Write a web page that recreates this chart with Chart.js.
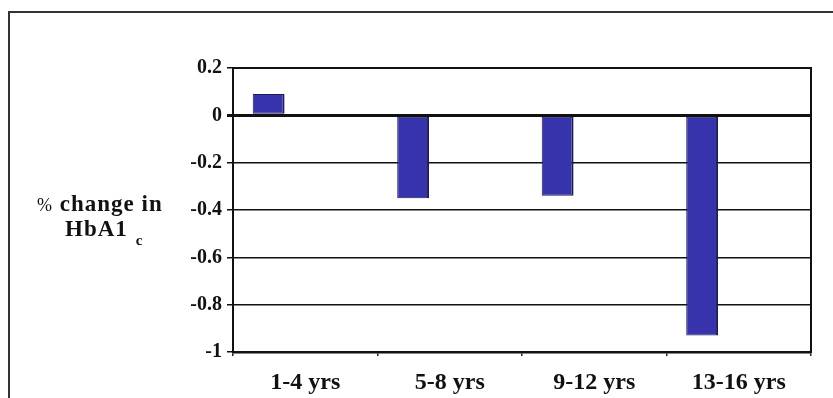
<!DOCTYPE html>
<html>
<head>
<meta charset="utf-8">
<script src="https://cdn.jsdelivr.net/npm/chart.js@4.4.0/dist/chart.umd.min.js"></script>
<style>
  html, body { margin: 0; padding: 0; background: #fff; }
  #wrap { position: relative; width: 833px; height: 398px; overflow: hidden; }
  #frame { position: absolute; left: 8px; top: 11px; width: 900px; height: 450px;
           border-left: 2px solid #333; border-top: 2px solid #333; }
  #chart { position: absolute; left: 0; top: 0; }
  .ytitle { position: absolute; font-family: "Liberation Serif", "Times New Roman", serif;
            font-weight: bold; font-size: 23px; color: #111; white-space: nowrap; letter-spacing: 1px; }
  .ytitle sub { font-size: 15px; vertical-align: -9px; margin-left: 8px; }
</style>
</head>
<body>
<div id="wrap">
  <div id="frame"></div>
  <canvas id="chart" width="833" height="398"></canvas>
  <div class="ytitle" style="left:37px; top:191px;"><span style="font-weight:normal;font-size:18px">%</span> change in</div>
  <div class="ytitle" style="left:65px; top:216px;">HbA1<sub>c</sub></div>
</div>
<script>
"use strict";
// données
const ageGroups = ["1-4 yrs", "5-8 yrs", "9-12 yrs", "13-16 yrs"];
const hba1cChange = [0.09, -0.35, -0.34, -0.93];
const emptySeries = [null, null, null, null];
const yTickValues = [0.2, 0, -0.2, -0.4, -0.6, -0.8, -1];
const yTickLabels = ["0.2", "0", "-0.2", "-0.4", "-0.6", "-0.8", "-1"];

const serif = "'Liberation Serif', 'Times New Roman', serif";

const ctx = document.getElementById("chart").getContext("2d");
const myChart = new Chart(ctx, {
  type: "bar",
  data: {
    labels: ageGroups,
    datasets: [
      {
        data: hba1cChange,
        backgroundColor: "#3633ad",
        borderColor: "#1c1c55",
        borderWidth: { top: 1, right: 2, bottom: 1, left: 1 },
        borderSkipped: false,
        categoryPercentage: 0.76,
        barPercentage: 0.87
      },
      // séries vides (comme dans le graphique d'origine, les barres sont décalées à gauche)
      { data: emptySeries, categoryPercentage: 0.76, barPercentage: 0.87 },
      { data: emptySeries, categoryPercentage: 0.76, barPercentage: 0.87 }
    ]
  },
  options: {
    responsive: false,
    animation: false,
    layout: { padding: { top: 68, right: 22, left: 0, bottom: 0 } },
    plugins: { legend: { display: false }, tooltip: { enabled: false } },
    scales: {
      x: {
        grid: { offset: true, drawOnChartArea: false, color: "#222", tickLength: 4, lineWidth: 1.5 },
        border: { color: "#111", width: 2.5 },
        ticks: { color: "#111", padding: 12, font: { family: serif, size: 24, weight: "bold" } },
        afterFit: (scale) => { scale.height = 46; }
      },
      y: {
        min: -1,
        max: 0.2,
        afterBuildTicks: (scale) => { scale.ticks = yTickValues.map(v => ({ value: v })); },
        grid: {
          color: "#111",
          lineWidth: (c) => (c.tick && c.tick.value === 0 ? 3 : 1.5),
          tickLength: 6
        },
        border: { color: "#111", width: 2 },
        ticks: {
          color: "#111",
          padding: 5,
          font: { family: serif, size: 20, weight: "bold" },
          callback: (v, i) => yTickLabels[i]
        },
        afterFit: (scale) => { scale.width = 233; }
      }
    }
  },
  plugins: [{
    // cadre de la zone de tracé
    id: "plotFrame",
    afterDraw(chart) {
      const a = chart.chartArea;
      const c = chart.ctx;
      c.save();
      c.strokeStyle = "#111";
      c.lineWidth = 2;
      c.strokeRect(a.left, a.top, a.right - a.left, a.bottom - a.top);
      c.restore();
    }
  }]
});
</script>
</body>
</html>
